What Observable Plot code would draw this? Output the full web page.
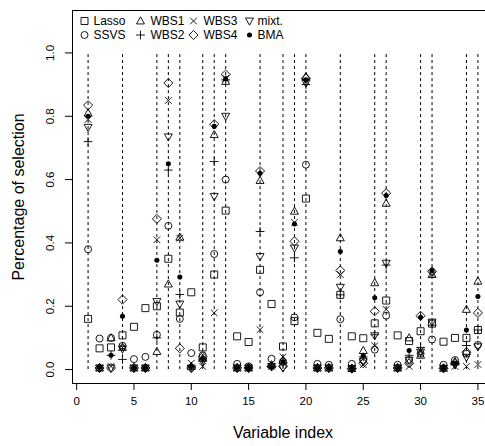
<!DOCTYPE html>
<html><head><meta charset="utf-8">
<script src="https://cdn.jsdelivr.net/npm/d3@7"></script>
<script src="https://cdn.jsdelivr.net/npm/@observablehq/plot@0.6"></script>
<style>
html,body{margin:0;padding:0;background:#fff;overflow:hidden;}
#chart svg{display:block;max-width:none !important;}
</style>
</head><body><div id="chart"></div>
<script>
// ---- data ----
const varIndex = [1,2,3,4,5,6,7,8,9,10,11,12,13,14,15,16,17,18,19,20,21,22,23,24,25,26,27,28,29,30,31,32,33,34,35];
const trueVars = [1,4,7,8,9,11,12,13,16,18,19,20,23,26,27,30,31,34,35];
const methods = ["Lasso","SSVS","WBS1","WBS2","WBS3","WBS4","mixt.","BMA"];
const lasso = [0.16,0.067,0.07,0.108,0.135,0.194,0.20,0.35,0.18,0.244,0.07,0.30,0.502,0.105,0.087,0.315,0.207,0.073,0.153,0.54,0.116,0.097,0.236,0.105,0.099,0.146,0.218,0.108,0.09,0.121,0.145,0.088,0.10,0.10,0.125];
const ssvs  = [0.38,0.098,0.10,0.075,0.033,0.04,0.11,0.454,0.16,0.052,0.045,0.365,0.60,0.018,0.01,0.244,0.034,0.025,0.165,0.647,0.018,0.015,0.159,0.018,0.03,0.063,0.17,0.015,0.03,0.05,0.095,0.015,0.03,0.05,0.078];
const wbs1  = [0.81,0.005,0.10,0.07,0.005,0.005,0.057,0.27,0.418,0.01,0.035,0.742,0.91,0.005,0.005,0.597,0.015,0.03,0.50,0.925,0.005,0.005,0.416,0.003,0.06,0.274,0.525,0.005,0.10,0.045,0.30,0.004,0.025,0.19,0.279];
const wbs2  = [0.72,0.005,0.045,0.032,0.005,0.005,0.10,0.63,0.237,0.01,0.03,0.657,0.915,0.005,0.005,0.436,0.01,0.02,0.353,0.90,0.005,0.005,0.236,0.003,0.04,0.11,0.33,0.005,0.045,0.07,0.14,0.004,0.015,0.076,0.125];
const wbs3  = [0.79,0.005,0.01,0.07,0.005,0.005,0.41,0.85,0.415,0.02,0.01,0.179,0.92,0.005,0.005,0.126,0.01,0.04,0.465,0.91,0.005,0.005,0.30,0.003,0.015,0.075,0.19,0.005,0.01,0.06,0.30,0.004,0.01,0.01,0.016];
const wbs4  = [0.835,0.005,0.005,0.221,0.005,0.005,0.476,0.905,0.067,0.005,0.04,0.775,0.932,0.005,0.005,0.627,0.01,0.01,0.405,0.92,0.005,0.005,0.313,0.003,0.02,0.184,0.557,0.005,0.02,0.17,0.31,0.004,0.02,0.055,0.179];
const mixt  = [0.765,0.005,0.005,0.065,0.005,0.005,0.215,0.735,0.207,0.005,0.025,0.547,0.80,0.005,0.005,0.357,0.01,0.005,0.384,0.905,0.005,0.005,0.26,0.003,0.025,0.107,0.336,0.005,0.03,0.055,0.15,0.004,0.015,0.039,0.072];
const bma   = [0.80,0.008,0.045,0.168,0.005,0.005,0.345,0.65,0.292,0.01,0.035,0.768,0.918,0.005,0.005,0.62,0.01,0.025,0.46,0.915,0.005,0.005,0.373,0.003,0.044,0.227,0.55,0.005,0.06,0.165,0.313,0.004,0.02,0.125,0.231];
const seriesValues = [lasso, ssvs, wbs1, wbs2, wbs3, wbs4, mixt, bma];
const xTicks = [0,5,10,15,20,25,30,35];
const yTicks = [0,0.2,0.4,0.6,0.8,1.0];
const xLabel = "Variable index";
const yLabel = "Percentage of selection";

// ---- symbols (R pch 0,1,2,3,4,5,6,20) ----
const H = s => Math.sqrt(s / Math.PI);
const symSquare = {draw(c, s){const h=H(s); c.moveTo(-h,-h); c.lineTo(h,-h); c.lineTo(h,h); c.lineTo(-h,h); c.closePath();}};
const symCircle = {draw(c, s){const h=H(s); c.moveTo(h,0); c.arc(0,0,h,0,2*Math.PI);}};
const symTriUp = {draw(c, s){const h=H(s)*1.2; c.moveTo(0,-h); c.lineTo(h*0.95,h*0.7); c.lineTo(-h*0.95,h*0.7); c.closePath();}};
const symTriDown = {draw(c, s){const h=H(s)*1.2; c.moveTo(0,h); c.lineTo(h*0.95,-h*0.7); c.lineTo(-h*0.95,-h*0.7); c.closePath();}};
const symPlus = {draw(c, s){const h=H(s)*1.25; c.moveTo(-h,0); c.lineTo(h,0); c.moveTo(0,-h); c.lineTo(0,h);}};
const symTimes = {draw(c, s){const h=H(s)*0.95; c.moveTo(-h,-h); c.lineTo(h,h); c.moveTo(-h,h); c.lineTo(h,-h);}};
const symDiamond = {draw(c, s){const h=H(s)*1.3; c.moveTo(0,-h); c.lineTo(h,0); c.lineTo(0,h); c.lineTo(-h,0); c.closePath();}};
const symBullet = {draw(c, s){const h=H(s)*0.72; c.moveTo(h,0); c.arc(0,0,h,0,2*Math.PI);}};
const symbols = [symSquare, symCircle, symTriUp, symPlus, symTimes, symDiamond, symTriDown, symBullet];
const styleOf = i => i === 7 ? {fill: "black", stroke: "none"} : {fill: "none", stroke: "black", strokeWidth: 0.9};

const data = methods.flatMap((m, i) => varIndex.map((v, j) => ({method: m, variable: v, value: seriesValues[i][j]})));

// legend layout (pixel offsets from the top-left of the frame)
const legSymDx = [12, 68, 121, 177];
const legTxtDx = [21, 78, 131, 185];
const legDy = [10.5, 24.5];

const font = "'Liberation Sans', Arial, Helvetica, sans-serif";

const marks = [
  Plot.frame({stroke: "black"}),
  Plot.ruleX(trueVars, {x: d => d, y1: 0, y2: 1, stroke: "black", strokeWidth: 1, strokeDasharray: "3,3"}),
  Plot.axisX({ticks: xTicks, tickSize: 7, tickPadding: 6, label: null, fontSize: 11.5}),
  Plot.axisY({ticks: yTicks, tickSize: 7, tickPadding: 12, tickRotate: -90, tickFormat: d3.format(".1f"), label: null, fontSize: 11.5}),
  ...methods.map((m, i) => Plot.dot(data.filter(d => d.method === m), {x: "variable", y: "value", symbol: () => symbols[i], r: 3.5, ...styleOf(i)})),
  ...methods.flatMap((m, i) => [
    Plot.dot([m], {frameAnchor: "top-left", dx: legSymDx[Math.floor(i/2)], dy: legDy[i%2], symbol: () => symbols[i], r: 3.5, ...styleOf(i)}),
    Plot.text([m], {frameAnchor: "top-left", dx: legTxtDx[Math.floor(i/2)], dy: legDy[i%2], text: d => d, textAnchor: "start", lineAnchor: "middle", fontSize: 12})
  ]),
  Plot.text([xLabel], {frameAnchor: "bottom", dy: 49, text: d => d, textAnchor: "middle", lineAnchor: "middle", fontSize: 16}),
  Plot.text([yLabel], {frameAnchor: "left", dx: -54, rotate: -90, text: d => d, textAnchor: "middle", lineAnchor: "middle", fontSize: 16})
];

const chart = Plot.plot({
  width: 497,
  height: 446,
  marginLeft: 72,
  marginRight: 4,
  marginTop: 10,
  marginBottom: 63,
  x: {domain: [-0.36, 36.36]},
  y: {domain: [-0.044, 1.134]},
  symbol: {type: "identity"},
  style: {fontFamily: font, fontSize: "11.5px", background: "white", color: "black", overflow: "visible", maxWidth: "none"},
  marks
});
document.getElementById("chart").appendChild(chart);
</script>
</body></html>
